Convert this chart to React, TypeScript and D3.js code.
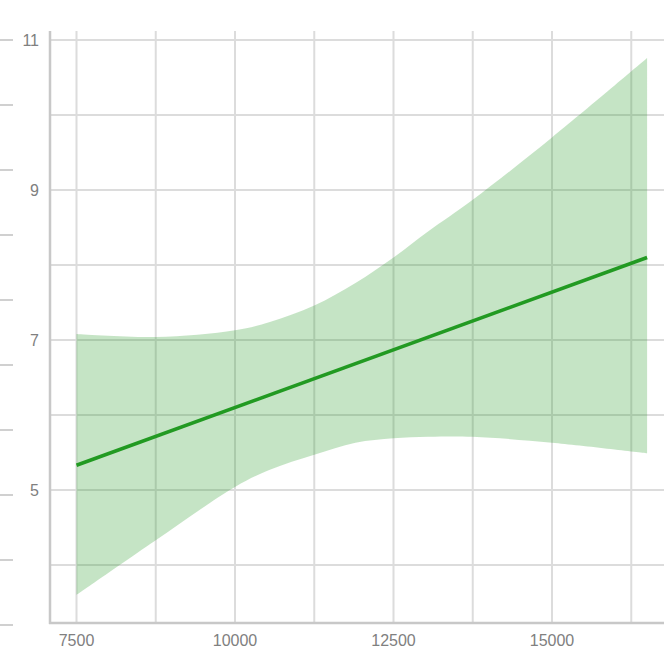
import React from 'react';
import * as d3 from 'd3';

const W = 664;
const H = 652;

// x positions of the samples
const xs = [7500, 8750, 10000, 10550, 11250, 11900, 12500, 13050, 13750, 15000, 16500];
// fitted line
const fitX = [7500, 16500];
const fitY = [5.33, 8.1];
// confidence band
const upper = [7.08, 7.04, 7.13, 7.24, 7.46, 7.76, 8.1, 8.45, 8.87, 9.7, 10.76];
const lower = [3.6, 4.33, 5.04, 5.27, 5.47, 5.63, 5.69, 5.71, 5.71, 5.63, 5.49];

const xTicks = [7500, 10000, 12500, 15000];
const xGrid = [7500, 8750, 10000, 11250, 12500, 13750, 15000, 16250];
const yTicks = [5, 7, 9, 11];
const yGrid = [4, 5, 6, 7, 8, 9, 10, 11];
// ticks of the neighbouring (cut-off) axis on the far left
const sideTicks = [0, 1, 2, 3, 4, 5, 6, 7, 8, 9];

const App = () => {
  const x = d3.scaleLinear().domain([7500, 12500]).range([76.5, 393.5]);
  const y = d3.scaleLinear().domain([5, 11]).range([490, 40]);
  const side = d3.scaleLinear().domain([0, 9]).range([625, 40]);

  const area = d3
    .area<number>()
    .x((d, i) => x(xs[i]))
    .y0((d, i) => y(lower[i]))
    .y1((d) => y(d))
    .curve(d3.curveCatmullRom);

  const line = d3
    .line<number>()
    .x((d, i) => x(fitX[i]))
    .y((d) => y(d));

  const left = 50;
  const bottom = 623;
  const top = 31;

  return (
    <svg
      width={W}
      height={H}
      style={{ position: 'absolute', left: 0, top: 0, fontFamily: 'Liberation Sans, Arial, sans-serif' }}
    >
      <rect width={W} height={H} fill="#fff" />

      {/* side axis ticks */}
      {sideTicks.map((t) => (
        <line key={'s' + t} x1={0} x2={13} y1={side(t)} y2={side(t)} stroke="#d0d0d0" strokeWidth={2} />
      ))}

      {/* grid */}
      {yGrid.map((t) => (
        <line key={'gy' + t} x1={left} x2={W} y1={y(t)} y2={y(t)} stroke="#dcdcdc" strokeWidth={2} />
      ))}
      {xGrid.map((t) => (
        <line key={'gx' + t} x1={x(t)} x2={x(t)} y1={top} y2={bottom} stroke="#dcdcdc" strokeWidth={2} />
      ))}

      {/* band and fit */}
      <path d={area(upper) || ''} fill="#2a9a2a" fillOpacity={0.27} />
      <path d={line(fitY) || ''} fill="none" stroke="#229a22" strokeWidth={3.5} />

      {/* axes */}
      <line x1={left} x2={left} y1={top} y2={bottom + 1} stroke="#c8c8c8" strokeWidth={2.5} />
      <line x1={left - 1} x2={W} y1={bottom} y2={bottom} stroke="#c8c8c8" strokeWidth={2.5} />

      {yTicks.map((t) => (
        <text key={'ty' + t} x={39} y={y(t)} dy="0.35em" textAnchor="end" fontSize={16} fill="#808080">
          {t}
        </text>
      ))}
      {xTicks.map((t) => (
        <text key={'tx' + t} x={x(t)} y={646} textAnchor="middle" fontSize={16} fill="#808080">
          {t}
        </text>
      ))}
    </svg>
  );
};

export default App;
